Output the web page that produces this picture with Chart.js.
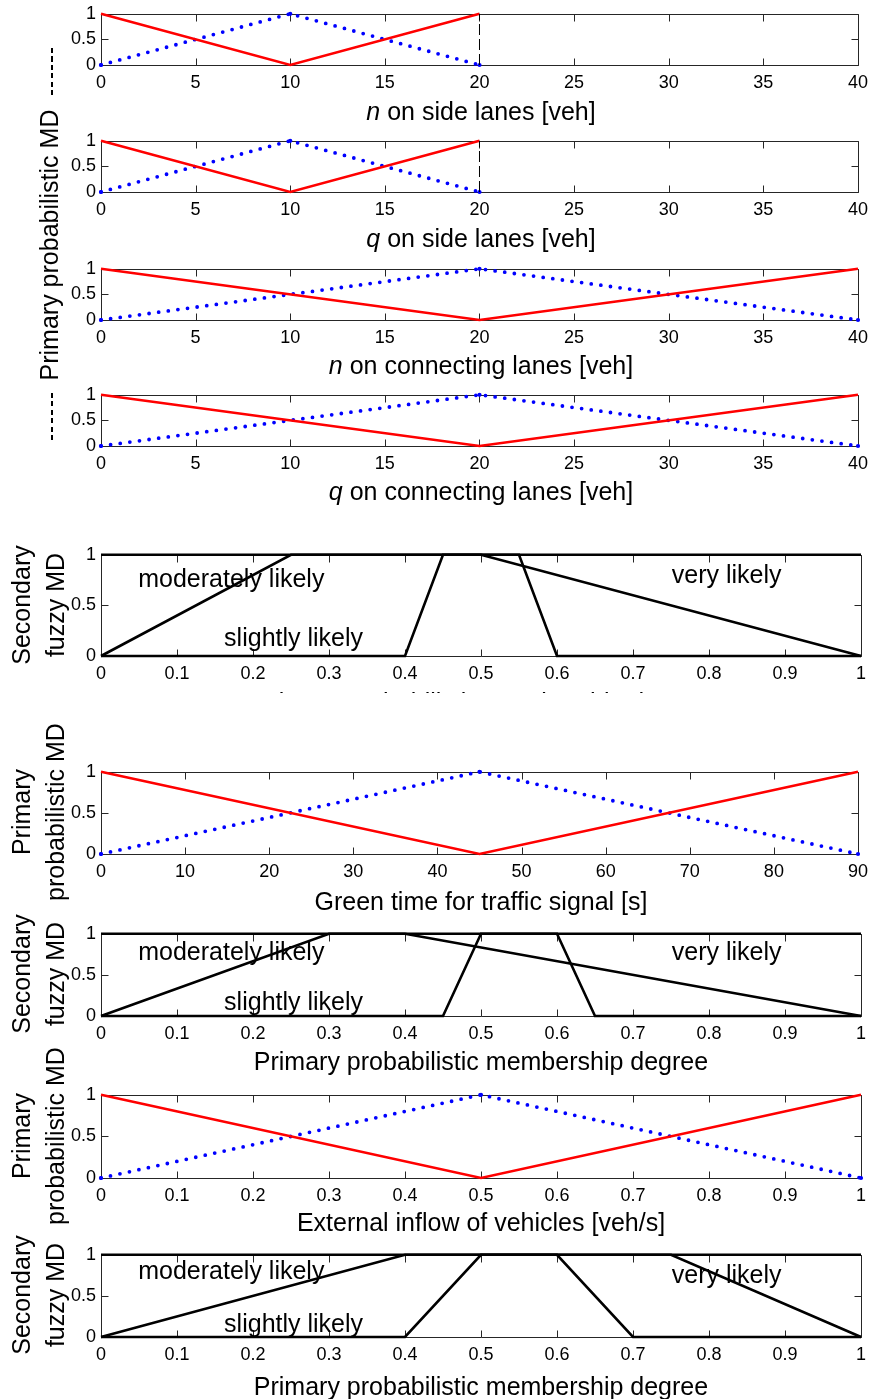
<!DOCTYPE html>
<html>
<head>
<meta charset="utf-8">
<script src="https://cdn.jsdelivr.net/npm/chart.js@4.4.1/dist/chart.umd.min.js"></script>
<style>
  body { margin: 0; background: #fff; width: 875px; height: 1399px; position: relative; overflow: hidden;
         font-family: "Liberation Sans", Arial, sans-serif; color: #000; }
  canvas { position: absolute; left: 0; }
  .xt { position: absolute; left: 101px; width: 760px; text-align: center; font-size: 25px; line-height: 30px; white-space: nowrap; }
  .yt { position: absolute; transform: translate(-50%, -50%) rotate(-90deg); text-align: center;
        font-size: 25px; line-height: 34px; white-space: nowrap; }
  .dash { position: absolute; width: 2px; background: repeating-linear-gradient(to bottom, #000 0 5px, transparent 5px 8.5px); }
  .cut { position: absolute; left: 0; width: 875px; overflow: hidden; }
</style>
</head>
<body>
<script>
// ---- tick values ----
const mdTicks = [0, 0.5, 1];
const mdTickLabels = ['0', '0.5', '1'];
const vehTicks = [0, 5, 10, 15, 20, 25, 30, 35, 40];
const greenTicks = [0, 10, 20, 30, 40, 50, 60, 70, 80, 90];
const degreeTicks = [0, 0.1, 0.2, 0.3, 0.4, 0.5, 0.6, 0.7, 0.8, 0.9, 1];

// ---- primary probabilistic MFs (red = low, blue = high) ----
const sideX = [0, 10, 20];
const sideLow = [1, 0, 1];
const sideHigh = [0, 1, 0];
const sideCutX = [20, 20];   // upper limit on side lanes
const sideCutY = [0, 1];

const connX = [0, 20, 40];
const connLow = [1, 0, 1];
const connHigh = [0, 1, 0];

const greenX = [0, 45, 90];
const greenLow = [1, 0, 1];
const greenHigh = [0, 1, 0];

const inflowX = [0, 0.5, 1];
const inflowLow = [1, 0, 1];
const inflowHigh = [0, 1, 0];

// ---- secondary fuzzy MFs over the primary degree ----
const fz1RiseX = [0, 0.25, 1],                 fz1RiseY = [0, 1, 1];
const fz1MidX  = [0, 0.4, 0.45, 0.55, 0.6, 1], fz1MidY  = [0, 0, 1, 1, 0, 0];
const fz1FallX = [0, 0.5, 1],                  fz1FallY = [1, 1, 0];

const fz2RiseX = [0, 0.3, 1],                  fz2RiseY = [0, 1, 1];
const fz2MidX  = [0, 0.45, 0.5, 0.6, 0.65, 1], fz2MidY  = [0, 0, 1, 1, 0, 0];
const fz2FallX = [0, 0.4, 1],                  fz2FallY = [1, 1, 0];

const fz3RiseX = [0, 0.4, 1],                  fz3RiseY = [0, 1, 1];
const fz3MidX  = [0, 0.4, 0.5, 0.6, 0.7, 1],   fz3MidY  = [0, 0, 1, 1, 0, 0];
const fz3FallX = [0, 0.75, 1],                 fz3FallY = [1, 1, 0];

const fuzzyNames = ['moderately likely', 'slightly likely', 'very likely'];

// ---------------------------------------------------------------
Chart.defaults.font.family = '"Liberation Sans", Arial, sans-serif';
Chart.defaults.font.size = 18;
Chart.defaults.color = '#000';
Chart.defaults.animation = false;

const PAD_TOP = 14, AXIS_H = 40, PLOT_LEFT = 101, PLOT_RIGHT = 861;

const pts = (xs, ys) => xs.map((x, i) => ({ x, y: ys[i] }));

const redLine = (xs, ys) => ({ data: pts(xs, ys), borderColor: '#ff0000', borderWidth: 2.5, pointRadius: 0, clip: 6 });
const blueDots = (xs, ys) => ({
  data: pts(xs, ys), borderColor: '#0000ff', borderWidth: 3.8, borderDash: [0, 9.7], borderCapStyle: 'round',
  pointRadius: 2.1, pointBorderWidth: 0, pointBackgroundColor: '#0000ff', clip: 6
});
const cutLine = (xs, ys) => ({ data: pts(xs, ys), borderColor: '#000', borderWidth: 1, borderDash: [11, 4], pointRadius: 0, clip: 6 });
const blackLine = (xs, ys) => ({ data: pts(xs, ys), borderColor: '#000', borderWidth: 2.6, pointRadius: 0, clip: 6 });

// box around the axes with inward ticks on all four sides
const boxAxes = {
  id: 'boxAxes',
  beforeDatasetsDraw(chart) {
    const { ctx, chartArea: a, scales: { x, y } } = chart;
    const r = v => Math.round(v) + 0.5;
    const L = r(a.left), R = r(a.right), T = r(a.top), B = r(a.bottom), tk = 7;
    ctx.save();
    ctx.strokeStyle = '#262626';
    ctx.lineWidth = 1;
    ctx.beginPath();
    ctx.rect(L, T, R - L, B - T);
    x.ticks.forEach(t => {
      const px = r(x.getPixelForValue(t.value));
      ctx.moveTo(px, B); ctx.lineTo(px, B - tk);
      ctx.moveTo(px, T); ctx.lineTo(px, T + tk);
    });
    y.ticks.forEach(t => {
      const py = r(y.getPixelForValue(t.value));
      ctx.moveTo(L, py); ctx.lineTo(L + tk, py);
      ctx.moveTo(R, py); ctx.lineTo(R - tk, py);
    });
    ctx.stroke();
    ctx.restore();
  }
};

// text labels placed in data coordinates
const notes = items => ({
  id: 'notes',
  afterDatasetsDraw(chart) {
    const { ctx, scales: { x, y } } = chart;
    ctx.save();
    ctx.font = '25px "Liberation Sans", Arial, sans-serif';
    ctx.fillStyle = '#000';
    ctx.textAlign = 'left';
    ctx.textBaseline = 'alphabetic';
    items.forEach(n => ctx.fillText(n.text, x.getPixelForValue(n.x), y.getPixelForValue(n.y)));
    ctx.restore();
  }
});

const panels = [
  { top: 12, bottom: 65, ticks: vehTicks, max: 40,
    sets: [cutLine(sideCutX, sideCutY), redLine(sideX, sideLow), blueDots(sideX, sideHigh)],
    title: '<i>n</i> on side lanes [veh]', titleBase: 120 },
  { top: 139, bottom: 192, ticks: vehTicks, max: 40,
    sets: [cutLine(sideCutX, sideCutY), redLine(sideX, sideLow), blueDots(sideX, sideHigh)],
    title: '<i>q</i> on side lanes [veh]', titleBase: 247 },
  { top: 267, bottom: 320, ticks: vehTicks, max: 40,
    sets: [redLine(connX, connLow), blueDots(connX, connHigh)],
    title: '<i>n</i> on connecting lanes [veh]', titleBase: 374 },
  { top: 393, bottom: 446, ticks: vehTicks, max: 40,
    sets: [redLine(connX, connLow), blueDots(connX, connHigh)],
    title: '<i>q</i> on connecting lanes [veh]', titleBase: 500 },
  { top: 553, bottom: 656, ticks: degreeTicks, max: 1,
    sets: [blackLine(fz1RiseX, fz1RiseY), blackLine(fz1MidX, fz1MidY), blackLine(fz1FallX, fz1FallY)],
    notes: [{ text: fuzzyNames[0], x: 0.049, y: 0.68 }, { text: fuzzyNames[1], x: 0.162, y: 0.097 }, { text: fuzzyNames[2], x: 0.751, y: 0.72 }],
    title: 'Primary probabilistic membership degree', titleBase: 711, clipAt: 693 },
  { top: 770, bottom: 854, ticks: greenTicks, max: 90,
    sets: [redLine(greenX, greenLow), blueDots(greenX, greenHigh)],
    title: 'Green time for traffic signal [s]', titleBase: 910 },
  { top: 932, bottom: 1016, ticks: degreeTicks, max: 1,
    sets: [blackLine(fz2RiseX, fz2RiseY), blackLine(fz2MidX, fz2MidY), blackLine(fz2FallX, fz2FallY)],
    notes: [{ text: fuzzyNames[0], x: 0.049, y: 0.687 }, { text: fuzzyNames[1], x: 0.162, y: 0.071 }, { text: fuzzyNames[2], x: 0.751, y: 0.687 }],
    title: 'Primary probabilistic membership degree', titleBase: 1070 },
  { top: 1093, bottom: 1178, ticks: degreeTicks, max: 1,
    sets: [redLine(inflowX, inflowLow), blueDots(inflowX, inflowHigh)],
    title: 'External inflow of vehicles [veh/s]', titleBase: 1231 },
  { top: 1253, bottom: 1337, ticks: degreeTicks, max: 1,
    sets: [blackLine(fz3RiseX, fz3RiseY), blackLine(fz3MidX, fz3MidY), blackLine(fz3FallX, fz3FallY)],
    notes: [{ text: fuzzyNames[0], x: 0.049, y: 0.70 }, { text: fuzzyNames[1], x: 0.162, y: 0.063 }, { text: fuzzyNames[2], x: 0.751, y: 0.66 }],
    title: 'Primary probabilistic membership degree', titleBase: 1395 }
];

function addText(cls, html, css, parent) {
  const d = document.createElement('div');
  d.className = cls;
  d.innerHTML = html;
  Object.assign(d.style, css);
  (parent || document.body).appendChild(d);
  return d;
}

panels.forEach(p => {
  const cv = document.createElement('canvas');
  const h = PAD_TOP + (p.bottom - p.top) + AXIS_H;
  cv.width = 875;
  cv.height = h;
  cv.style.top = (p.top - PAD_TOP) + 'px';
  document.body.appendChild(cv);

  const xTicks = p.ticks;
  new Chart(cv, {
    type: 'line',
    data: { datasets: p.sets },
    options: {
      responsive: false,
      layout: { padding: { top: PAD_TOP, right: 875 - PLOT_RIGHT, bottom: 0, left: 0 } },
      plugins: { legend: { display: false }, tooltip: { enabled: false } },
      scales: {
        x: {
          type: 'linear', min: 0, max: p.max,
          afterBuildTicks: s => { s.ticks = xTicks.map(v => ({ value: v })); },
          afterFit: s => { s.height = AXIS_H; },
          grid: { display: false, drawTicks: false },
          border: { display: false },
          ticks: { padding: 7, maxRotation: 0, autoSkip: false, callback: v => String(v) }
        },
        y: {
          type: 'linear', min: 0, max: 1,
          afterBuildTicks: s => { s.ticks = mdTicks.map(v => ({ value: v })); },
          afterFit: s => { s.width = PLOT_LEFT; },
          grid: { display: false, drawTicks: false },
          border: { display: false },
          ticks: { padding: 5, callback: v => mdTickLabels[mdTicks.indexOf(v)] }
        }
      }
    },
    plugins: [boxAxes].concat(p.notes ? [notes(p.notes)] : [])
  });

  // x-axis title (baseline sits ~23.7px below the div top)
  if (p.clipAt) {
    const wrap = addText('cut', '', { top: (p.bottom + 30) + 'px', height: (p.clipAt - p.bottom - 30) + 'px' });
    addText('xt', p.title, { top: (p.titleBase - 23.7 - p.bottom - 30) + 'px' }, wrap);
  } else {
    addText('xt', p.title, { top: (p.titleBase - 23.7) + 'px' });
  }
});

// shared y title for the four traffic-state panels
addText('yt', 'Primary probabilistic MD', { left: '49.3px', top: '244.5px', lineHeight: '30px' });
addText('dash', '', { left: '51px', top: '48px', height: '50px' });
addText('dash', '', { left: '51px', top: '393px', height: '49px' });

// per-panel y titles
[
  { text: 'Secondary<br>fuzzy MD', cy: 604.5 },
  { text: 'Primary<br>probabilistic MD', cy: 812 },
  { text: 'Secondary<br>fuzzy MD', cy: 974 },
  { text: 'Primary<br>probabilistic MD', cy: 1135.5 },
  { text: 'Secondary<br>fuzzy MD', cy: 1295 }
].forEach(t => addText('yt', t.text, { left: '38.3px', top: t.cy + 'px' }));
</script>
</body>
</html>
